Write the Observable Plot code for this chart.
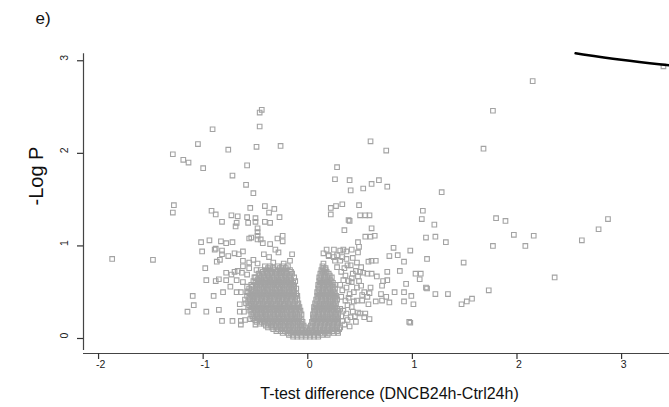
<!DOCTYPE html>
<html><head><meta charset="utf-8">
<script src="https://cdn.jsdelivr.net/npm/d3@7"></script>
<script src="https://cdn.jsdelivr.net/npm/@observablehq/plot@0.6"></script>
<style>html,body{margin:0;padding:0;background:#fff;}</style>
</head><body><div id="chart"></div>
<script>
const xTicks = [-2, -1, 0, 1, 2, 3];
const yTicks = [0, 1, 2, 3];
const xTitle = "T-test difference (DNCB24h-Ctrl24h)";
const yTitle = "-Log P";
const panel = "e)";

// sparse points, upper left
const upperLeft = [[-0.44,2.47],[-0.46,2.44],[-0.46,2.29],[-0.91,2.26],[-1.05,2.10],[-0.76,2.04],[-0.49,2.07],[-0.26,2.08],[-1.29,1.99],[-1.19,1.93],[-1.14,1.90],[-1.00,1.84],[-0.58,1.87],[-0.72,1.76],[-0.59,1.66],[-0.52,1.57]];
// sparse points, upper right
const upperRight = [[0.60,2.13],[0.75,2.03],[0.28,1.85],[0.26,1.72],[0.40,1.71],[0.41,1.60],[0.53,1.62],[0.61,1.67],[0.68,1.71],[0.76,1.64],[1.28,1.58]];
// right side, middle
const rightMid = [[0.22,1.41],[0.22,1.34],[0.27,1.43],[0.33,1.45],[0.49,1.44],[0.39,1.28],[0.40,1.27],[0.50,1.33],[0.55,1.33],[0.59,1.33],[0.35,1.17],[0.61,1.19],[0.55,1.10],[0.60,1.10],[0.64,1.11],[0.48,1.04],[0.49,0.99],[0.82,0.98],[0.78,0.89],[0.86,0.90],[0.98,0.95],[0.92,0.83],[0.88,0.73],[0.76,0.72],[0.58,0.83],[0.61,0.84],[0.65,0.84],[0.57,0.70],[0.61,0.70],[0.66,0.67],[0.72,0.62],[0.71,0.57],[0.94,0.59],[1.03,0.70],[1.08,0.70],[1.07,0.64],[1.13,0.55],[1.14,0.54],[0.70,0.48],[0.75,0.45],[0.71,0.41],[0.78,0.39],[0.83,0.50],[0.92,0.50],[0.92,0.40],[0.99,0.46],[1.01,0.37],[1.22,0.48],[1.34,0.48],[1.47,0.37],[1.52,0.40],[1.57,0.43],[1.49,0.82],[1.10,1.38],[1.09,1.29],[1.21,1.23],[1.13,1.09],[1.22,1.10],[1.32,1.04],[1.14,0.86],[0.97,0.18],[0.98,0.17],[0.59,0.21],[0.55,0.27],[0.50,0.27],[0.50,0.72],[0.53,0.71],[0.76,0.63],[0.60,0.55],[0.59,0.49],[0.52,0.47],[0.65,0.40],[0.58,0.37]];
// right arm, medium density
const rightArm = [[0.15,0.81],[0.17,0.76],[0.20,0.90],[0.26,0.84],[0.31,0.84],[0.37,0.86],[0.43,0.87],[0.47,0.82],[0.41,0.79],[0.51,0.77],[0.28,0.90],[0.31,0.95],[0.37,0.94],[0.42,0.96],[0.48,0.93],[0.15,0.92],[0.18,0.96],[0.25,0.96],[0.34,0.96],[0.20,0.89],[0.25,0.88],[0.33,0.88],[0.28,0.77],[0.38,0.79],[0.43,0.70],[0.48,0.67],[0.42,0.61],[0.47,0.55],[0.40,0.48],[0.47,0.41],[0.42,0.34],[0.48,0.28],[0.41,0.23],[0.46,0.18],[0.31,0.12],[0.33,0.19],[0.34,0.30],[0.36,0.41],[0.33,0.52],[0.34,0.63],[0.54,0.23],[0.52,0.41],[0.54,0.50],[0.51,0.57],[0.57,0.45],[0.32,0.72],[0.36,0.68],[0.39,0.62],[0.31,0.58],[0.37,0.55],[0.44,0.50],[0.32,0.45],[0.38,0.36],[0.44,0.40],[0.31,0.32],[0.37,0.27],[0.43,0.29],[0.32,0.24],[0.38,0.20],[0.35,0.15],[0.40,0.13],[0.45,0.24],[0.39,0.44],[0.42,0.65],[0.46,0.73],[0.35,0.76],[0.49,0.62]];
// far right
const farRight = [[2.15,2.78],[1.77,2.46],[1.68,2.05],[1.80,1.30],[1.89,1.27],[1.97,1.12],[2.16,1.11],[1.77,1.00],[2.08,1.00],[2.62,1.06],[2.78,1.18],[2.87,1.29],[2.36,0.66],[1.73,0.52],[3.40,2.94]];
// left side, middle
const leftMid = [[-1.87,0.86],[-1.48,0.85],[-1.28,1.44],[-1.29,1.36],[-0.55,1.41],[-0.41,1.43],[-0.37,1.36],[-0.32,1.40],[-0.27,1.31],[-0.92,1.38],[-0.88,1.34],[-0.82,1.26],[-0.73,1.33],[-0.67,1.32],[-0.68,1.25],[-0.69,1.21],[-0.58,1.31],[-0.50,1.30],[-0.57,1.25],[-0.50,1.26],[-0.41,1.26],[-0.36,1.25],[-0.48,1.19],[-0.48,1.15],[-0.48,1.11],[-0.45,1.07],[-0.56,1.08],[-0.54,1.09],[-0.43,1.03],[-0.36,1.02],[-0.29,1.08],[-0.24,1.11],[-0.24,1.05],[-1.02,1.04],[-0.94,1.06],[-0.89,0.96],[-0.88,0.97],[-0.83,1.05],[-0.78,1.03],[-0.72,1.04],[-1.01,0.94],[-0.82,0.95],[-0.76,0.89],[-0.70,0.92],[-0.66,0.91],[-0.62,0.94],[-0.87,0.83],[-0.84,0.85],[-0.98,0.76],[-0.97,0.63],[-0.88,0.62],[-0.85,0.64],[-0.78,0.71],[-0.78,0.63],[-0.73,0.69],[-0.70,0.72],[-0.67,0.73],[-0.62,0.78],[-0.63,0.71],[-0.74,0.56],[-0.81,0.50],[-0.90,0.46],[-1.10,0.46],[-1.09,0.36],[-1.15,0.29],[-0.97,0.29],[-0.85,0.31],[-0.82,0.19],[-0.72,0.19],[-0.64,0.19],[-0.64,0.15],[-0.60,0.20],[-0.55,0.21],[-0.50,0.15],[-0.65,0.29],[-0.61,0.29],[-0.65,0.37],[-0.68,0.50],[-0.64,0.50],[-0.58,0.50],[-0.52,0.45],[-0.31,0.96],[-0.28,0.93],[-0.15,0.91],[-0.17,0.84],[-0.23,0.81],[-0.42,0.91],[-0.37,0.88],[-0.33,0.82],[-0.48,1.07],[-0.82,0.91],[-0.62,0.84],[-0.56,0.82],[-0.52,0.85],[-0.48,0.81],[-0.56,0.76],[-0.49,0.74],[-0.58,0.69],[-0.51,0.66],[-0.68,0.63],[-0.62,0.61],[-0.58,0.56]];
// dense core: [-Log P, [differences]]
const core = [
 [0.02,[-0.14,-0.10,-0.06,-0.02,0.02,0.06,0.10]],
 [0.04,[-0.18,-0.14,-0.10,-0.06,-0.02,0.02,0.06,0.10,0.14,0.19]],
 [0.06,[-0.24,-0.19,-0.16,-0.11,-0.08,-0.03,0.00,0.04,0.09,0.12,0.17,0.20,0.25,0.29]],
 [0.08,[-0.30,-0.26,-0.22,-0.18,-0.14,-0.10,-0.06,-0.02,0.01,0.04,0.08,0.12,0.16,0.20,0.24,0.28]],
 [0.10,[-0.33,-0.28,-0.25,-0.20,-0.17,-0.12,-0.09,-0.05,-0.01,0.02,0.07,0.10,0.15,0.18,0.23,0.26,0.30]],
 [0.12,[-0.38,-0.34,-0.30,-0.26,-0.22,-0.18,-0.14,-0.10,-0.06,-0.02,0.04,0.08,0.12,0.16,0.20,0.24,0.28]],
 [0.14,[-0.40,-0.35,-0.32,-0.27,-0.24,-0.19,-0.16,-0.12,-0.07,-0.04,0.03,0.07,0.12,0.15,0.20,0.23,0.28]],
 [0.16,[-0.46,-0.42,-0.38,-0.34,-0.30,-0.26,-0.22,-0.18,-0.14,-0.10,-0.06,0.05,0.09,0.13,0.17,0.21,0.25,0.29]],
 [0.18,[-0.49,-0.44,-0.41,-0.36,-0.33,-0.28,-0.25,-0.20,-0.17,-0.12,-0.09,-0.05,0.04,0.09,0.12,0.17,0.20,0.25,0.28]],
 [0.20,[-0.50,-0.46,-0.42,-0.38,-0.34,-0.30,-0.26,-0.22,-0.18,-0.14,-0.10,-0.06,0.06,0.10,0.14,0.18,0.22,0.26,0.29]],
 [0.22,[-0.52,-0.47,-0.44,-0.39,-0.36,-0.31,-0.28,-0.23,-0.20,-0.15,-0.12,-0.08,0.05,0.08,0.13,0.16,0.21,0.24,0.29]],
 [0.24,[-0.53,-0.48,-0.44,-0.40,-0.36,-0.32,-0.28,-0.24,-0.20,-0.16,-0.12,-0.08,0.06,0.11,0.15,0.19,0.23,0.27]],
 [0.26,[-0.54,-0.49,-0.46,-0.41,-0.38,-0.33,-0.30,-0.25,-0.22,-0.17,-0.14,-0.10,-0.06,0.05,0.10,0.13,0.18,0.21,0.26,0.29]],
 [0.28,[-0.52,-0.48,-0.44,-0.40,-0.36,-0.32,-0.28,-0.24,-0.20,-0.16,-0.12,-0.08,0.07,0.11,0.15,0.19,0.23,0.27]],
 [0.30,[-0.55,-0.50,-0.47,-0.42,-0.39,-0.34,-0.31,-0.26,-0.23,-0.18,-0.15,-0.11,-0.07,0.06,0.09,0.14,0.17,0.22,0.25,0.29]],
 [0.32,[-0.54,-0.49,-0.45,-0.41,-0.37,-0.33,-0.29,-0.25,-0.21,-0.16,-0.12,-0.09,0.07,0.12,0.16,0.20,0.24,0.28]],
 [0.34,[-0.57,-0.52,-0.49,-0.44,-0.41,-0.36,-0.33,-0.28,-0.25,-0.20,-0.17,-0.13,-0.08,0.06,0.11,0.14,0.19,0.22,0.26]],
 [0.36,[-0.56,-0.51,-0.47,-0.43,-0.39,-0.35,-0.31,-0.27,-0.23,-0.18,-0.14,-0.10,0.08,0.13,0.17,0.21,0.25]],
 [0.38,[-0.59,-0.54,-0.51,-0.46,-0.43,-0.38,-0.35,-0.30,-0.27,-0.22,-0.19,-0.14,-0.09,0.07,0.11,0.16,0.19,0.24,0.27]],
 [0.40,[-0.57,-0.53,-0.49,-0.45,-0.41,-0.37,-0.33,-0.29,-0.25,-0.21,-0.17,-0.12,0.09,0.14,0.18,0.22,0.26]],
 [0.42,[-0.60,-0.55,-0.52,-0.47,-0.44,-0.39,-0.36,-0.31,-0.28,-0.23,-0.20,-0.15,-0.10,0.08,0.13,0.16,0.21,0.24,0.28]],
 [0.44,[-0.56,-0.52,-0.48,-0.44,-0.40,-0.36,-0.32,-0.28,-0.24,-0.20,-0.16,-0.12,0.10,0.14,0.18,0.22,0.26]],
 [0.46,[-0.58,-0.53,-0.50,-0.45,-0.42,-0.37,-0.34,-0.29,-0.26,-0.21,-0.18,-0.14,-0.10,0.09,0.12,0.17,0.20,0.25,0.27]],
 [0.48,[-0.55,-0.51,-0.47,-0.43,-0.39,-0.35,-0.31,-0.27,-0.23,-0.19,-0.15,-0.11,0.10,0.15,0.19,0.23,0.26]],
 [0.50,[-0.57,-0.52,-0.49,-0.44,-0.41,-0.36,-0.33,-0.28,-0.25,-0.20,-0.17,-0.13,0.09,0.14,0.17,0.22,0.25]],
 [0.52,[-0.54,-0.50,-0.46,-0.42,-0.38,-0.34,-0.30,-0.26,-0.22,-0.18,-0.14,0.11,0.15,0.19,0.24]],
 [0.54,[-0.56,-0.50,-0.47,-0.42,-0.39,-0.34,-0.31,-0.26,-0.23,-0.18,-0.15,-0.11,0.10,0.13,0.18,0.21,0.26]],
 [0.56,[-0.53,-0.48,-0.44,-0.40,-0.36,-0.32,-0.28,-0.24,-0.20,-0.16,-0.13,0.11,0.16,0.20,0.24]],
 [0.58,[-0.54,-0.49,-0.46,-0.41,-0.38,-0.33,-0.30,-0.25,-0.22,-0.17,-0.14,0.10,0.15,0.18,0.23,0.26]],
 [0.60,[-0.50,-0.46,-0.42,-0.38,-0.34,-0.30,-0.26,-0.22,-0.18,-0.14,0.12,0.16,0.20,0.24]],
 [0.62,[-0.52,-0.47,-0.44,-0.39,-0.36,-0.31,-0.28,-0.23,-0.20,-0.16,-0.12,0.11,0.14,0.19,0.22]],
 [0.64,[-0.48,-0.44,-0.40,-0.36,-0.32,-0.28,-0.24,-0.20,-0.16,0.12,0.17,0.21]],
 [0.66,[-0.50,-0.45,-0.42,-0.37,-0.34,-0.29,-0.26,-0.21,-0.18,-0.13,0.11,0.16,0.19,0.23]],
 [0.68,[-0.46,-0.42,-0.38,-0.34,-0.30,-0.26,-0.22,-0.17,0.13,0.17,0.21]],
 [0.70,[-0.47,-0.44,-0.39,-0.36,-0.31,-0.28,-0.23,-0.20,-0.15,0.12,0.15,0.20]],
 [0.72,[-0.43,-0.39,-0.34,-0.30,-0.25,-0.21,-0.16,0.14,0.18]],
 [0.74,[-0.45,-0.40,-0.36,-0.31,-0.27,-0.22,-0.17,0.13,0.17]],
 [0.76,[-0.38,-0.33,-0.27,-0.21,0.15]],
 [0.78,[-0.41,-0.36,-0.29,-0.24,-0.19,0.14]]
];
// black line segment at top right
const topLine = [[2.56,3.08],[2.99,3.01],[3.46,2.95]];

const xDomain = [-2.144, 3.458];
const yDomain = [-0.162, 3.1];

const points = [...upperLeft, ...upperRight, ...rightMid, ...rightArm, ...farRight, ...leftMid];
for (const [y, xs] of core) for (const x of xs) points.push([x, y]);

const font = "'Liberation Sans', Arial, sans-serif";
const chart = Plot.plot({
  width: 669, height: 407,
  marginLeft: 83, marginRight: 0, marginTop: 51, marginBottom: 54,
  x: {domain: xDomain},
  y: {domain: yDomain},
  style: {fontFamily: font, background: "#fff", color: "#333", overflow: "visible"},
  marks: [
    Plot.dot(points, {x: d => d[0], y: d => d[1], symbol: "square", r: 2.6, stroke: "#a3a3a3", strokeWidth: 1.1, fill: "none"}),
    Plot.line(topLine, {x: d => d[0], y: d => d[1], stroke: "#000", strokeWidth: 2.5, curve: "basis"}),
    Plot.ruleX([xDomain[0]], {y1: -0.13, y2: 3.075, stroke: "#444", strokeWidth: 1.2}),
    Plot.ruleY([yDomain[0]], {x1: xDomain[0], x2: xDomain[1], stroke: "#444", strokeWidth: 1.2}),
    Plot.axisX({ticks: xTicks, tickSize: 6, tickFormat: () => "", label: null, strokeWidth: 1.2, stroke: "#333"}),
    Plot.axisY({ticks: yTicks, tickSize: 6, tickFormat: () => "", label: null, strokeWidth: 1.2, stroke: "#333"}),
    Plot.text(xTicks, {x: d => d, frameAnchor: "bottom", text: d => String(d), lineAnchor: "top", dy: 7.5, dx: 2, fontSize: 10.5, fill: "#222"}),
    Plot.text(yTicks, {y: d => d, frameAnchor: "left", text: d => String(d), rotate: -90, dx: -19, fontSize: 10.5, fill: "#222"}),
    Plot.text([xTitle], {frameAnchor: "bottom", text: d => d, lineAnchor: "top", dy: 34, dx: 13, fontSize: 16, fill: "#111"}),
    Plot.text([yTitle], {frameAnchor: "left", text: d => d, rotate: -90, dx: -47, dy: 3, fontSize: 20, fill: "#111"}),
    Plot.text([panel], {frameAnchor: "top-left", text: d => d, lineAnchor: "top", dx: -48, dy: -40, fontSize: 17, textAnchor: "start", fill: "#111"})
  ]
});
document.getElementById("chart").appendChild(chart);
</script>
</body></html>
